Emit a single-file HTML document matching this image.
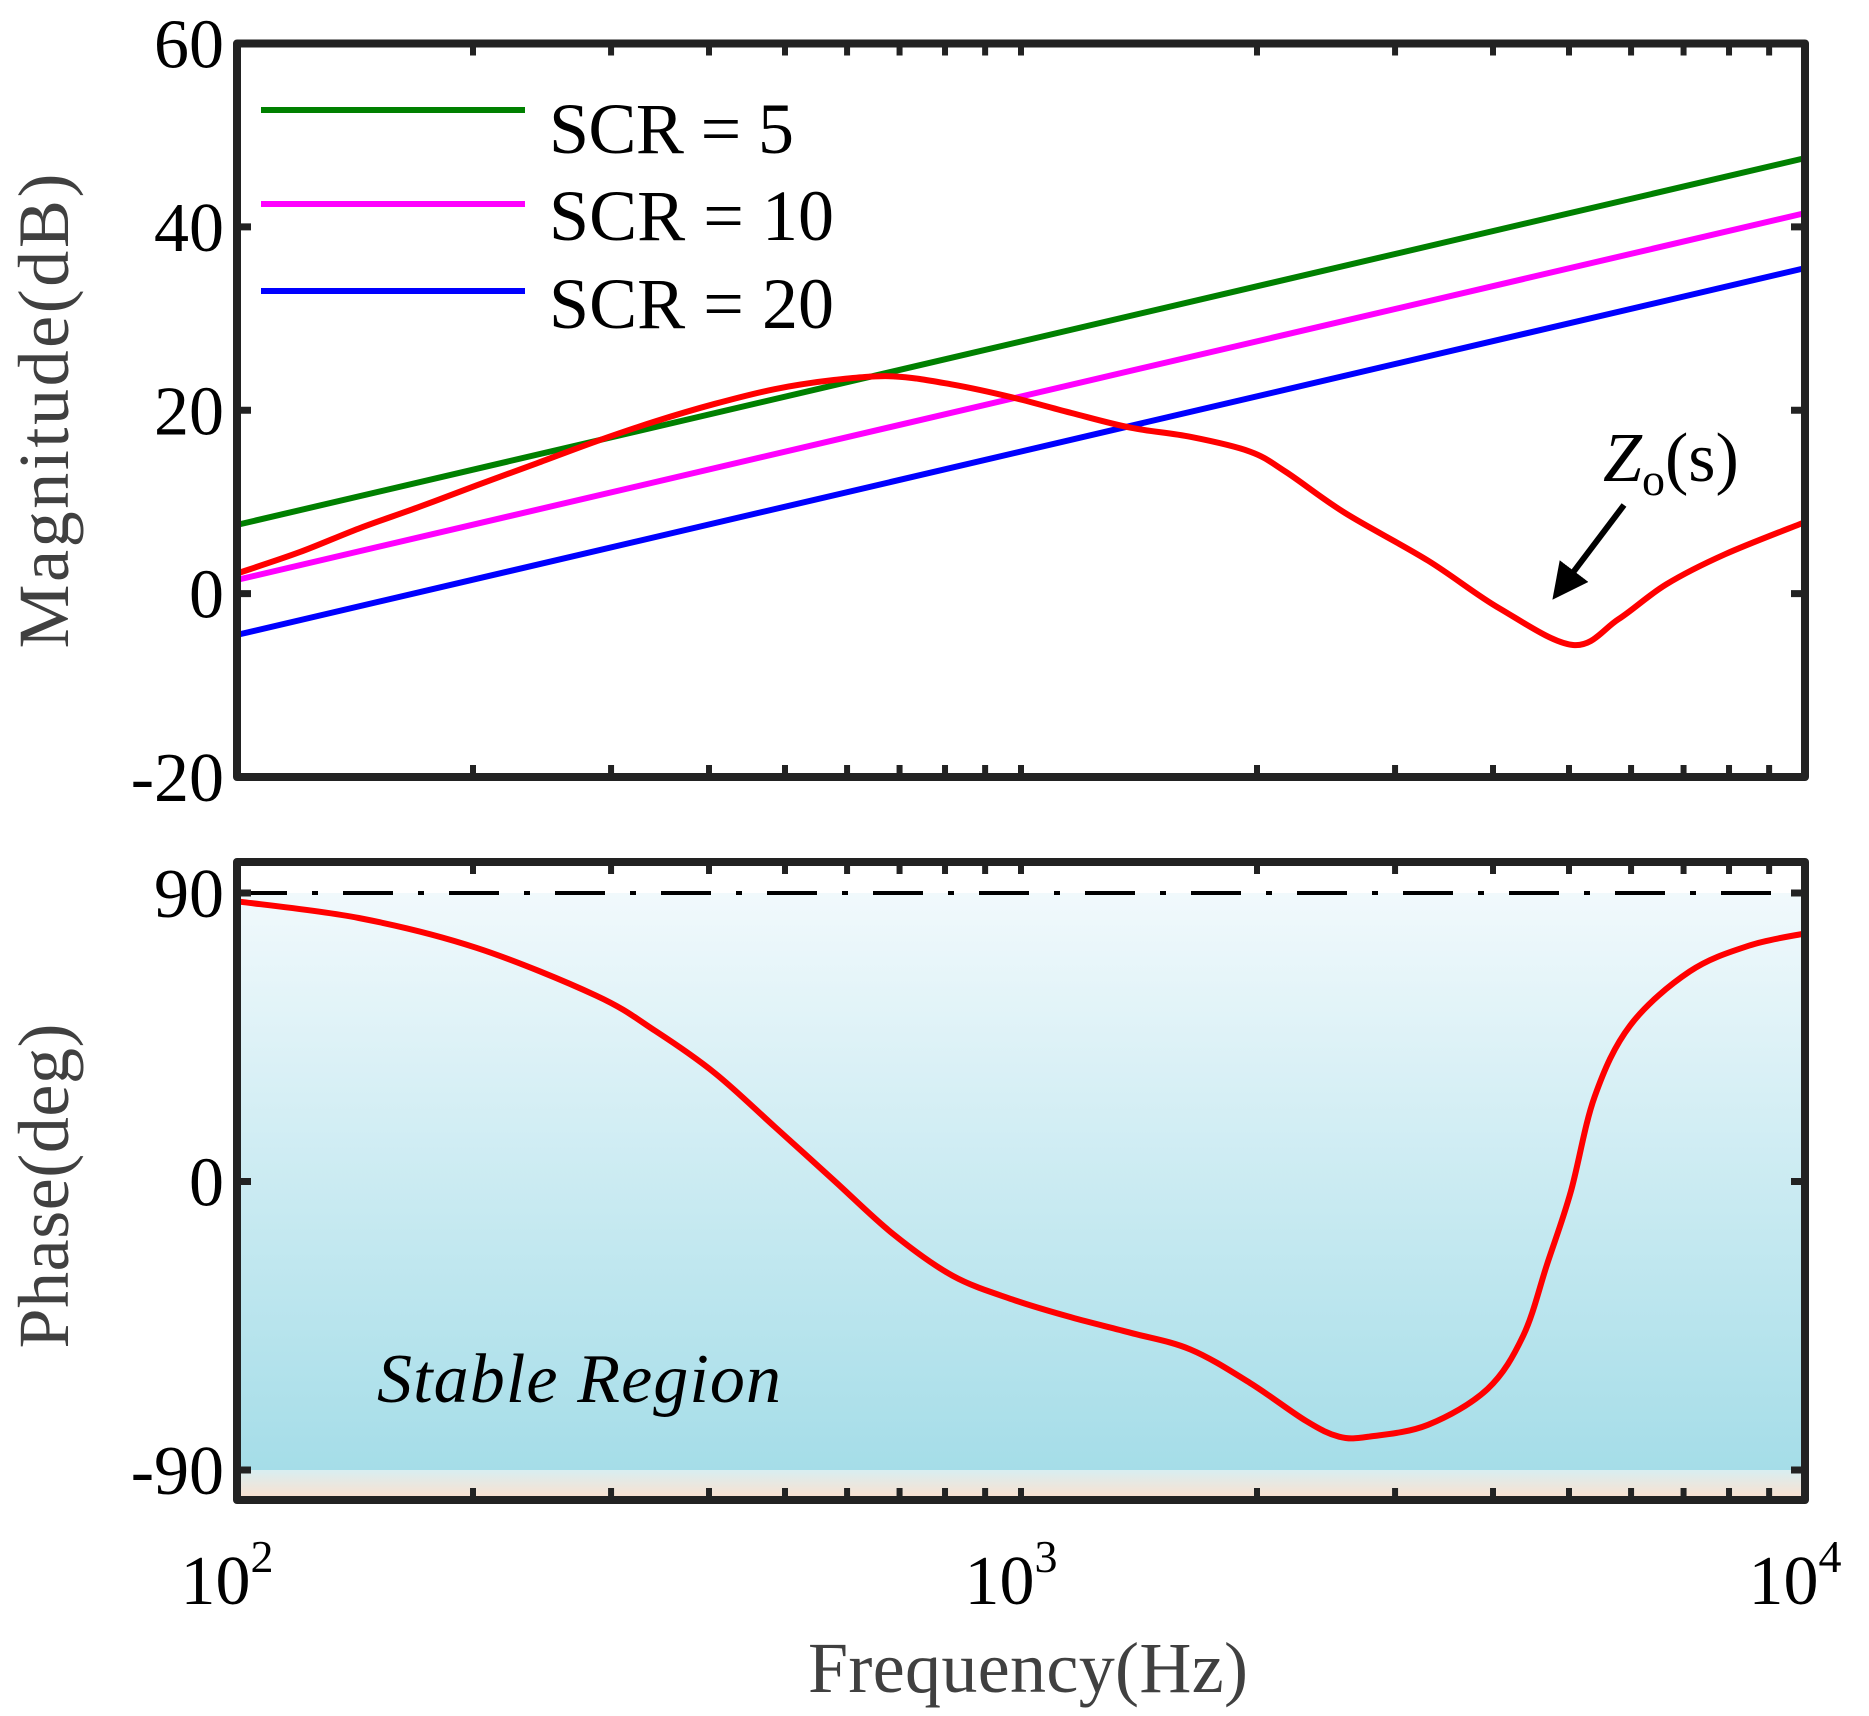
<!DOCTYPE html>
<html><head><meta charset="utf-8"><style>
html,body{margin:0;padding:0;background:#fff;}
svg{display:block;font-family:"Liberation Serif","Times New Roman",serif;}
</style></head><body>
<svg id="chart" width="1869" height="1716" viewBox="0 0 1869 1716" xmlns="http://www.w3.org/2000/svg">
<defs>
<linearGradient id="stable" x1="0" y1="0" x2="0" y2="1"><stop offset="0" stop-color="#f1f9fc"/><stop offset="1" stop-color="#a5dde8"/></linearGradient>
<linearGradient id="unstable" x1="0" y1="0" x2="0" y2="1"><stop offset="0" stop-color="#d8eef1"/><stop offset="1" stop-color="#fde0cd"/></linearGradient>
<marker id="ah" markerWidth="6" markerHeight="6" refX="5" refY="3" orient="auto"><path d="M0,0 L6,3 L0,6 z" fill="#000"/></marker>
</defs>
<g id="g"></g>
</svg>
<script>
const scrLabels = ["SCR = 5","SCR = 10","SCR = 20"];
const scrColors = ["#008000","#ff00ff","#0000ff"];
const scrAt100 = [7.5, 1.5, -4.5];
const scrAt10k = [47.5, 41.5, 35.5];
const magFreq = [100,120,143,170,202,241,287,342,407,485,577,687,818,975,1160,1380,1645,1958,2175,2590,3305,4075,5060,5780,6650,7910,10000];
const magDb = [2.2,4.5,7.1,9.4,11.8,14.2,16.6,18.8,20.7,22.3,23.3,23.7,22.8,21.4,19.7,18.1,17.1,15.5,13.3,8.8,3.6,-1.6,-5.6,-2.8,1.0,4.3,7.8];
const phFreq = [100,143,202,287,342,407,485,577,687,818,975,1160,1380,1645,1958,2310,2545,2777,3305,3937,4373,4690,5025,5390,5985,7125,8490,10000];
const phDeg = [87.4,82.2,72.9,58.0,46.9,33.8,17.1,0.4,-16.4,-29.4,-36.8,-42.4,-47.2,-52.4,-62.8,-74.7,-79.6,-79.6,-75.9,-64.7,-48.0,-25.7,-3.3,26.4,48.7,65.5,73.6,77.4];
const magTicks = [60,40,20,0,-20];
const phTicks = [90,0,-90];

const NS="http://www.w3.org/2000/svg";
const G=document.getElementById('g');
const X0=237,X1=1805;
const xs=f=>X0+(Math.log10(f)-2)/2*(X1-X0);
const T0=43.5,T1=777; const ym=v=>T0+(60-v)/80*(T1-T0);
const P0=862,P1=1500; const yp=v=>893+(90-v)/180*(1470-893);
function el(t,a,p){const e=document.createElementNS(NS,t);for(const k in a)e.setAttribute(k,a[k]);(p||G).appendChild(e);return e;}
function smooth(px,py){let d="M"+px[0]+","+py[0];for(let i=0;i<px.length-1;i++){const x0=px[Math.max(i-1,0)],y0=py[Math.max(i-1,0)],x3=px[Math.min(i+2,px.length-1)],y3=py[Math.min(i+2,px.length-1)];const c1x=px[i]+(px[i+1]-x0)/6,c1y=py[i]+(py[i+1]-y0)/6,c2x=px[i+1]-(x3-px[i])/6,c2y=py[i+1]-(y3-py[i])/6;d+=` C${c1x},${c1y} ${c2x},${c2y} ${px[i+1]},${py[i+1]}`;}return d;}

let e=el('rect',{x:X0,y:893,width:X1-X0,height:1470-893,fill:'url(#stable)'});


e=el('rect',{x:X0,y:1470,width:X1-X0,height:P1-1470,fill:'url(#unstable)'});


e=el('line',{x1:X0,x2:X1,y1:yp(90),y2:yp(90),stroke:'#000','stroke-width':4,'stroke-dasharray':'50,25,6,25'});



for(let i=0;i<3;i++){
 e=el('line',{x1:xs(100),y1:ym(scrAt100[i]),x2:xs(10000),y2:ym(scrAt10k[i]),stroke:scrColors[i],'stroke-width':6});
 
 
}
e=el('path',{d:smooth(magFreq.map(xs),magDb.map(ym)),fill:'none',stroke:'#ff0000','stroke-width':6});


e=el('path',{d:smooth(phFreq.map(xs),phDeg.map(yp)),fill:'none',stroke:'#ff0000','stroke-width':6});



function frame(top,bot,name){
 const r=el('rect',{x:X0,y:top,width:X1-X0,height:bot-top,fill:'none',stroke:'#222','stroke-width':8,'stroke-linejoin':'round'});
 
 
 for(let d=100;d<10000;d*=10)for(let m=1;m<10;m++){const f=d*m;if(f<=100)continue;const x=xs(f);
  el('line',{x1:x,x2:x,y1:bot,y2:bot-12,stroke:'#222','stroke-width':6});
  el('line',{x1:x,x2:x,y1:top,y2:top+12,stroke:'#222','stroke-width':6});}
}
frame(T0,T1,'magnitude-axes-frame');frame(P0,P1,'phase-axes-frame');
function ytick(y,lab,name){el('line',{x1:X0,x2:X0+14,y1:y,y2:y,stroke:'#222','stroke-width':7});el('line',{x1:X1,x2:X1-14,y1:y,y2:y,stroke:'#222','stroke-width':7});
 const t=el('text',{x:224,y:y+24,'text-anchor':'end','font-size':70,fill:'#000'});t.textContent=lab;
 
 }
magTicks.forEach(v=>ytick(ym(v),String(v),'magnitude-tick-label'));
phTicks.forEach(v=>ytick(yp(v),String(v),'phase-tick-label'));
[2,3,4].forEach(p=>{const x=xs(Math.pow(10,p));const t=el('text',{x:x-10,y:1604,'text-anchor':'middle','font-size':70,fill:'#000'});
 t.innerHTML='10<tspan dy="-32" font-size="46">'+p+'</tspan>';
 
 });

let t=el('text',{x:1028,y:1692,'text-anchor':'middle','font-size':72,fill:'#404040',textLength:440});t.textContent='Frequency(Hz)';


t=el('text',{x:0,y:0,transform:'translate(68,411) rotate(-90)','text-anchor':'middle','font-size':72,fill:'#404040',textLength:475});t.textContent='Magnitude(dB)';


t=el('text',{x:0,y:0,transform:'translate(68,1186) rotate(-90)','text-anchor':'middle','font-size':72,fill:'#404040',textLength:325});t.textContent='Phase(deg)';



const ly=[110,204,291],lb=[153,240,328];
const lw=[245,285,285];
for(let i=0;i<3;i++){
 e=el('line',{x1:261,x2:525,y1:ly[i],y2:ly[i],stroke:scrColors[i],'stroke-width':6});
 
 
 t=el('text',{x:549,y:lb[i],'font-size':72,fill:'#000',textLength:lw[i]});t.textContent=scrLabels[i];
 
 
}
t=el('text',{x:1603,y:481,'font-size':70,fill:'#000'});t.innerHTML='<tspan font-style="italic">Z</tspan><tspan font-size="46" dy="14">o</tspan><tspan dy="-14">(s)</tspan>';


e=el('line',{x1:1624,y1:505,x2:1556,y2:595,stroke:'#000','stroke-width':6,'marker-end':'url(#ah)'});


t=el('text',{x:377,y:1402,'font-size':70,'font-style':'italic',fill:'#000',textLength:404});t.textContent='Stable Region';


</script>
</body></html>
